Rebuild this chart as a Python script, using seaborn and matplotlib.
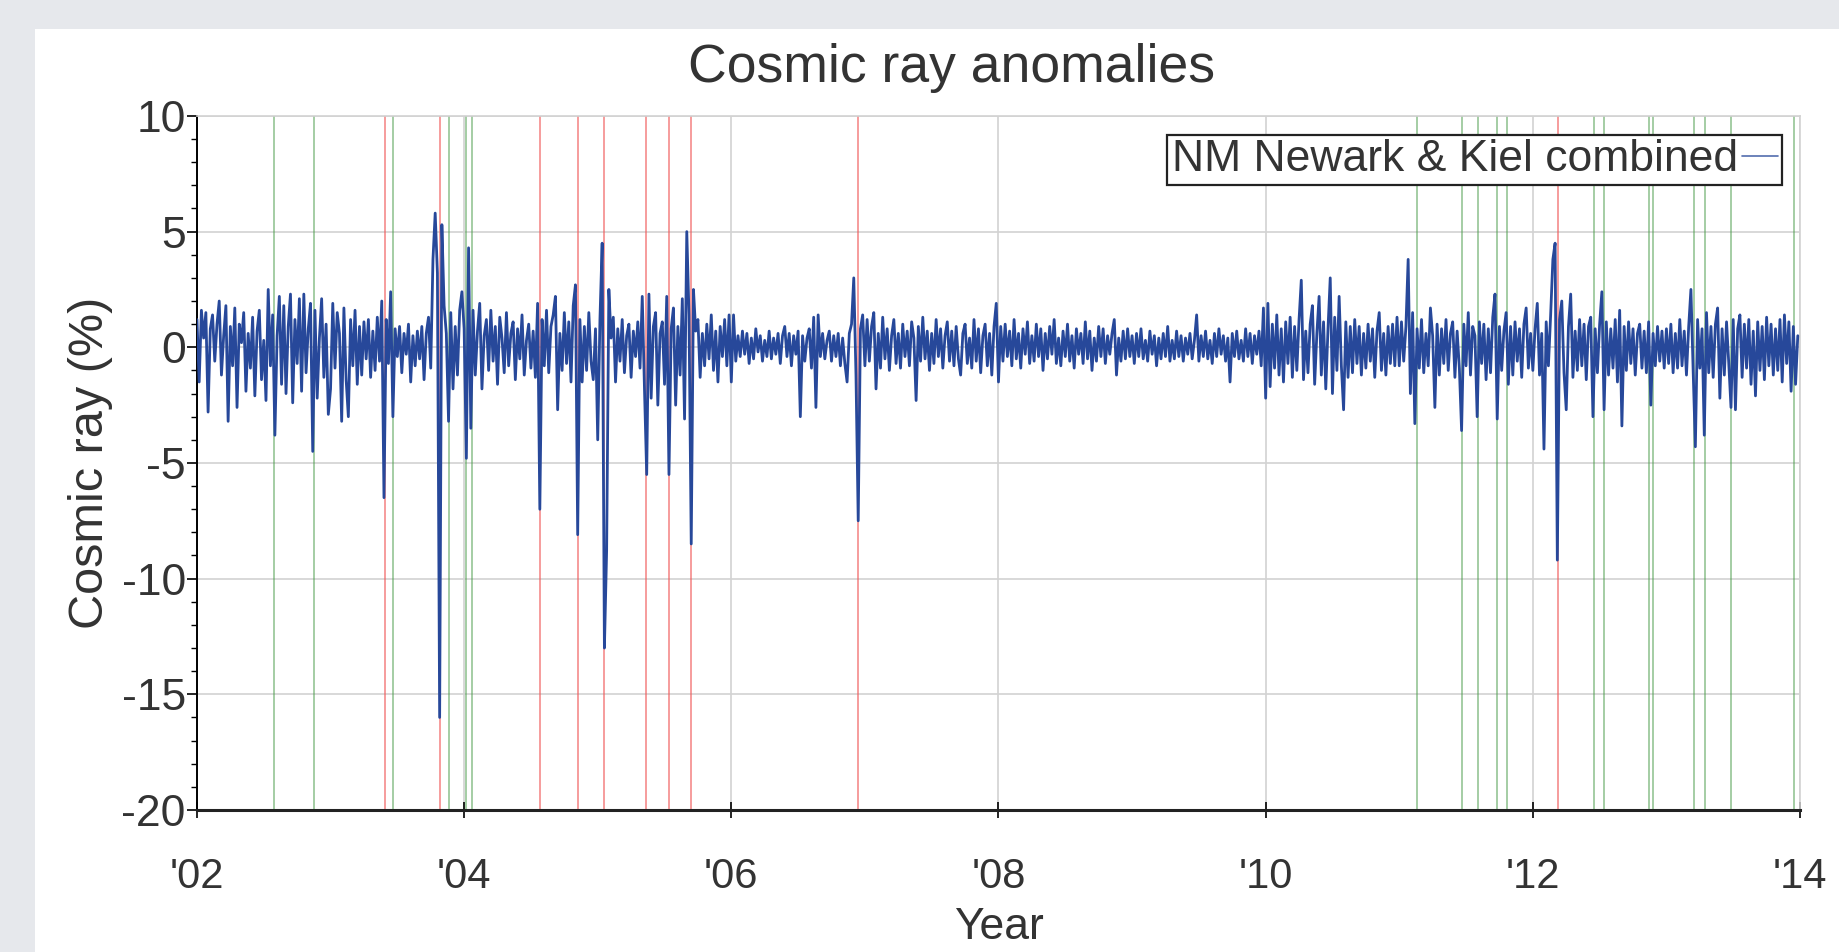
import pandas as pd
import matplotlib.pyplot as plt
from matplotlib.ticker import MultipleLocator
from matplotlib.patches import Rectangle
import seaborn as sns

# Cosmic ray deviation (%), 60 samples per year (about every 6 days)
cr_2002 = [1.2, -1.5, 1.6, 0.4, 1.5, -2.8, 0.8, 1.4, -0.6, 1.0,
           2.0, -1.2, 0.5, 1.8, -3.2, 0.9, -0.8, 1.7, -2.6, 1.0,
           0.2, 1.5, -1.9, 0.6, -0.9, 1.3, -2.1, 0.7, 1.6, -1.4,
           0.3, -2.3, 2.5, -0.8, 1.4, -3.8, 0.5, 2.2, -1.6, 1.8,
           -2.0, 0.9, 2.3, -2.4, 1.2, -0.7, 2.1, -1.9, 2.3, -1.1,
           0.8, 1.9, -4.5, 1.6, -2.2, 0.4, 2.1, -1.3, 1.0, -2.9]
cr_2003 = [-1.8, 1.9, -0.9, 1.5, 0.6, -3.2, 1.7, -1.4, -3.0, 1.2,
           -0.8, 1.6, -1.6, 0.9, -1.2, 1.1, -0.5, 1.2, -1.3, 0.7,
           -1.0, 1.3, -0.6, 2.0, -6.5, 1.2, -0.7, 2.4, -3.0, 0.8,
           -0.4, 0.9, -1.1, 0.6, -0.3, 1.0, -1.5, 0.5, -0.8, 0.7,
           -0.5, 0.9, -1.4, 0.6, 1.3, -0.9, 3.8, 5.8, 3.2, -16.0,
           5.3, 1.8, 0.6, -3.2, 1.5, -1.8, 0.9, -1.2, 1.6, 2.4]
cr_2004 = [0.8, -4.8, 4.3, -3.5, 1.6, -1.2, 0.7, 1.9, -1.8, 0.5,
           1.2, -1.0, 1.6, -0.6, 0.9, -1.6, 1.3, 0.4, -1.1, 1.5,
           -0.8, 0.6, 1.1, -1.4, 0.8, -0.5, 1.4, -1.2, 0.3, 1.0,
           -0.9, 0.7, -1.3, 1.9, -7.0, 1.2, -0.8, 1.6, -1.1, 0.9,
           1.4, 2.2, -2.7, 0.6, -1.0, 1.5, -0.7, 1.1, -1.5, 1.8,
           2.7, -8.1, 1.2, -1.5, 0.9, -1.0, 1.5, -0.6, -1.4, 0.8]
cr_2005 = [-4.0, 1.2, 4.5, -13.0, -8.8, 2.5, 0.4, 1.3, -1.5, 0.8,
           -0.6, 1.2, -1.1, 0.5, 1.0, -1.3, 0.7, -0.4, 1.1, -0.9,
           2.2, -1.8, -5.5, 2.3, -2.2, 0.9, 1.5, -2.5, 0.6, 1.1,
           -1.6, 2.2, -5.5, 0.8, 1.7, -2.5, 0.9, -1.2, 2.1, -3.1,
           5.0, 1.4, -8.5, 2.5, 0.7, 1.2, -1.3, 0.6, -0.8, 1.0,
           -0.5, 1.4, -1.0, 0.7, -1.5, 0.9, -0.4, 1.2, -0.8, 1.4]
cr_2006 = [-1.5, 1.4, -0.6, 0.5, -0.4, 0.7, -0.3, 0.6, -0.7, 0.4,
           -0.5, 0.8, -0.2, 0.5, -0.6, 0.3, -0.4, 0.7, -0.5, 0.4,
           -0.3, 0.6, -0.7, 0.5, 0.9, -0.4, 0.6, -0.8, 0.5, -0.3,
           0.7, -3.0, 0.5, -0.6, 0.4, 0.8, -0.9, 1.3, -2.6, 1.4,
           -0.4, 0.6, -0.5, 0.3, 0.7, -0.6, 0.5, -0.4, 0.6, -0.8,
           0.4, -0.7, -1.5, 0.6, 1.0, 3.0, -1.2, -7.5, 0.8, 1.4]
cr_2007 = [-0.8, 1.2, -0.6, 0.9, 1.5, -1.8, 0.6, -0.9, 1.3, -0.5,
           0.8, -1.0, 0.5, 1.2, -0.7, 0.6, -0.9, 1.0, -0.4, 0.7,
           -0.8, 1.1, 0.4, -2.3, 0.9, -0.6, 1.3, -0.5, 0.7, -1.0,
           0.6, -0.7, 1.2, -0.4, 0.8, -0.9, 0.5, 1.1, -0.6, 0.7,
           -0.8, 0.9, -0.5, -1.2, 0.6, 1.0, -0.7, 0.4, -0.9, 1.2,
           -0.6, 0.8, -1.1, 0.5, 1.0, -0.8, 0.6, -1.2, 0.9, 1.9]
cr_2008 = [-1.5, 0.9, -0.6, 1.0, -0.4, 0.7, -0.8, 1.2, -0.5, 0.6,
           -0.9, 0.8, -0.3, 1.1, -0.7, 0.5, -0.6, 1.0, -0.4, 0.8,
           -1.0, 0.6, -0.5, 0.9, -0.3, 1.2, -0.7, 0.4, -0.8, 0.7,
           -0.4, 1.0, -0.6, 0.5, -0.9, 0.8, -0.3, 0.6, -0.7, 1.1,
           -0.5, 0.7, -1.0, 0.4, -0.6, 0.9, -0.4, 0.8, -0.7, 0.5,
           -0.3, 0.6, 1.2, -1.2, 0.4, -0.6, 0.7, -0.5, 0.8, -0.4]
cr_2009 = [0.5, -0.7, 0.6, -0.4, 0.8, -0.5, 0.3, -0.6, 0.7, -0.3,
           0.5, -0.8, 0.4, -0.5, 0.6, -0.4, 0.9, -0.6, 0.3, -0.5,
           0.7, -0.4, 0.5, -0.6, 0.4, -0.3, 0.6, -0.5, 0.3, 1.4,
           -0.6, 0.5, -0.4, 0.7, -0.5, 0.3, -0.7, 0.6, -0.4, 0.8,
           -0.3, 0.5, -0.6, 0.4, -1.5, 0.6, -0.4, 0.7, -0.5, 0.3,
           -0.6, 0.8, -0.4, 0.6, -0.7, 0.5, -0.3, 0.7, -0.8, 1.7]
cr_2010 = [-2.2, 1.9, -1.7, 1.0, -0.9, 1.4, -1.2, 0.8, -1.5, 1.1,
           -0.7, 1.3, -1.3, 0.9, -1.0, 1.2, 2.9, -1.4, 0.7, -1.1,
           1.0, 1.8, -1.6, 0.6, 2.2, -1.2, 1.1, -1.8, 0.8, 3.0,
           -2.0, 1.3, -1.0, 2.2, -0.8, -2.7, 1.1, -1.3, 0.9, -1.1,
           1.2, -0.7, 0.9, -1.2, 0.6, -0.9, 1.0, -0.6, 0.8, -1.3,
           0.7, 1.5, -1.0, 0.6, -1.2, 0.9, -0.7, 1.0, -0.8, 1.3]
cr_2011 = [-0.8, 1.1, -0.6, 0.9, 3.8, -2.0, 1.5, -3.3, 0.8, -0.9,
           1.2, -1.1, 0.6, -0.8, 1.7, 0.5, -2.6, 1.0, -1.2, 0.8,
           -0.7, 1.2, -1.0, 0.6, 1.1, -1.3, 0.7, -0.9, -3.6, 1.0,
           -0.8, 1.5, -1.2, 0.9, 0.5, -3.0, 1.1, -0.7, 1.0, -1.4,
           0.8, -1.1, 1.3, 2.3, -3.1, 0.9, -1.0, 0.7, 1.5, -1.6,
           0.9, -1.2, 1.1, -0.6, 0.8, -1.3, 1.0, 1.7, -0.9, 0.6]
cr_2012 = [-1.0, 0.8, 1.9, -1.2, 0.6, -4.4, 1.1, -0.8, 1.4, 3.8,
           4.5, -9.2, 1.2, 2.0, -1.1, -2.7, 0.9, 2.3, -1.3, 0.7,
           -1.0, 1.2, -0.8, 1.0, -1.4, 0.9, 1.3, -3.0, 0.8, -1.1,
           1.0, 2.4, -2.7, 1.1, -1.2, 0.8, -0.9, 1.2, -1.5, 1.6,
           -3.4, 0.9, -1.0, 1.1, -0.7, 0.8, -1.2, 0.6, 1.0, -0.9,
           0.7, -1.1, 1.1, -2.5, 0.6, -0.8, 0.9, -0.6, 0.7, -0.9]
cr_2013 = [0.8, -0.7, 1.0, -1.1, 0.6, -0.9, 1.2, -0.8, 0.7, -1.2,
           0.9, 2.5, -1.0, -4.3, 1.2, -0.9, 0.8, -3.8, 1.5, -1.1,
           0.9, -1.3, 1.0, 1.7, -2.2, 0.8, -1.2, 1.1, -0.7, -2.6,
           1.2, -2.7, 0.8, 1.4, -1.3, 1.0, -0.9, 1.2, -1.6, 0.7,
           -2.1, 1.1, -1.0, 0.9, -1.4, 1.3, -0.8, 1.0, -1.2, 0.8,
           -1.0, 1.2, -1.5, 1.4, -0.7, 1.1, -1.9, 0.9, -1.6, 0.5]

years = list(range(2002, 2014))
series = [cr_2002, cr_2003, cr_2004, cr_2005, cr_2006, cr_2007,
          cr_2008, cr_2009, cr_2010, cr_2011, cr_2012, cr_2013]

# event markers (decimal year)
green_events = [2002.575, 2002.874, 2003.47, 2003.89, 2004.016, 2004.06,
                2011.13, 2011.47, 2011.59, 2011.735, 2011.81, 2012.455,
                2012.535, 2012.87, 2012.90, 2013.21, 2013.29, 2013.48, 2013.955]
red_events = [2003.404, 2003.82, 2004.565, 2004.856, 2005.045, 2005.363,
              2005.534, 2005.697, 2006.95, 2012.19]

tick_years = [2002, 2004, 2006, 2008, 2010, 2012, 2014]
tick_labels = ["'02", "'04", "'06", "'08", "'10", "'12", "'14"]

rows = []
for yr, vals in zip(years, series):
    for i, v in enumerate(vals):
        rows.append((yr + i / len(vals), v))
df = pd.DataFrame(rows, columns=["year", "cosmic_ray"])

sns.set_theme(style="white")
plt.rcParams["font.family"] = ["Liberation Sans", "DejaVu Sans"]
plt.rcParams["axes.unicode_minus"] = False
text_col = "#333333"

fig = plt.figure(figsize=(18.39, 9.52), dpi=100)
fig.patch.set_facecolor("#e6e8ec")
# white card behind the chart (screenshot margin)
fig.patches.append(Rectangle((35 / 1839, 0), 1, 1 - 29 / 952, transform=fig.transFigure,
                             facecolor="white", edgecolor="none", zorder=-5))
ax = fig.add_axes([0.1071, 0.1492, 0.8717, 0.729])
ax.set_zorder(2)

for x in green_events:
    ax.axvline(x, color="#4c9e4c", alpha=0.55, lw=1.3, zorder=1)
for x in red_events:
    ax.axvline(x, color="#f05a5a", alpha=0.65, lw=1.3, zorder=1)

sns.lineplot(data=df, x="year", y="cosmic_ray", estimator=None, color="#27489a",
             lw=2.0, ax=ax, label="NM Newark & Kiel combined", zorder=3)

ax.set_xlim(2002, 2014)
ax.set_ylim(-20, 10)
ax.set_xticks(tick_years)
ax.set_xticklabels(tick_labels)
ax.yaxis.set_major_locator(MultipleLocator(5))
ax.yaxis.set_minor_locator(MultipleLocator(1))
ax.grid(True, which="major", color="#d2d2d2", lw=1.2)
ax.set_axisbelow(True)

ax.tick_params(axis="y", which="major", left=True, direction="out", length=7, width=1.2,
               color="black", labelsize=32, labelcolor=text_col, pad=1)
ax.tick_params(axis="y", which="minor", left=True, direction="out", length=4.5, width=1.0,
               color="black")
ax.tick_params(axis="x", which="major", bottom=True, direction="inout", length=12, width=1.2,
               color="black", labelsize=30, labelcolor=text_col, pad=28)

for side in ["top", "right"]:
    ax.spines[side].set_color("#d2d2d2")
    ax.spines[side].set_linewidth(1.2)
ax.spines["left"].set_color("black")
ax.spines["left"].set_linewidth(1.4)
ax.spines["bottom"].set_color("#222222")
ax.spines["bottom"].set_linewidth(2.2)

ax.set_xlabel("Year", fontsize=32, color=text_col)
ax.set_ylabel("Cosmic ray (%)", fontsize=35, color=text_col)
ax.xaxis.label.set_verticalalignment("center")
ax.yaxis.label.set_verticalalignment("center")
ax.xaxis.set_label_coords(0.5, (810 - 928) / 694)
ax.yaxis.set_label_coords((91 - 197) / 1603, 0.5)

fig.text(952 / 1839, 1 - 68 / 952, "Cosmic ray anomalies", fontsize=38.5, color=text_col,
         ha="center", va="center")

leg = ax.legend(loc="upper right", bbox_to_anchor=(0.989, 0.9726), borderaxespad=0,
                fontsize=32, frameon=True, fancybox=False, markerfirst=False,
                handlelength=0.8, handletextpad=0.1, borderpad=0.1)
leg.get_frame().set_edgecolor("#222222")
leg.get_frame().set_linewidth(1.6)
leg.get_frame().set_facecolor("white")
leg.get_frame().set_alpha(1)
for t in leg.get_texts():
    t.set_color(text_col)
for h in leg.get_lines():
    h.set_linewidth(1.2)
    h.set_alpha(0.8)

fig.savefig("out.png", dpi=100, facecolor=fig.get_facecolor())
